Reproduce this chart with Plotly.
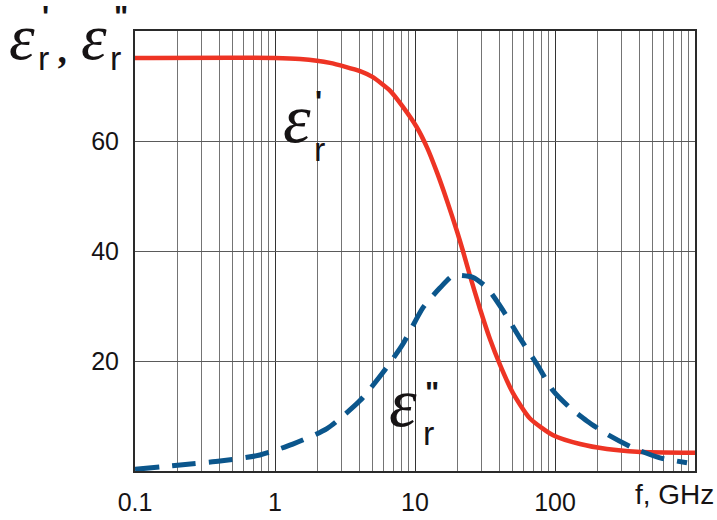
import plotly.graph_objects as go

# ---- data ----
f_real = [0.1, 1, 1.51, 2.47, 4.05, 5.0, 6.6, 8.2, 10.3, 12.2, 14.4, 16.9, 20, 22, 24.7,
          29.1, 34.3, 40.5, 50, 66, 97, 151, 235, 385, 1000]
eps_real = [75.1, 75.1, 74.9, 74.2, 72.7, 71.6, 69.2, 66.2, 62.5, 58.8, 54.2, 49.2, 43.5, 40.0, 35.5,
            29.5, 24.0, 19.3, 14.2, 9.6, 6.5, 4.9, 4.0, 3.5, 3.3]

f_imag = [0.1, 0.21, 0.405, 0.78, 1.34, 2.35, 4.05, 5.9, 8.2, 11.4, 15.1, 18.7, 25.9, 32.7,
          42.5, 56, 74, 97, 128, 169, 235, 361, 562, 877]
eps_imag = [0.3, 1.1, 1.8, 2.9, 4.9, 7.7, 12.8, 17.9, 23.1, 29.7, 33.3, 35.5, 35.2, 33.3,
            29.2, 24.2, 19.5, 14.6, 11.5, 9.1, 6.7, 4.2, 2.4, 1.5]

x_tickvals = [0.1, 1, 10, 100]
x_ticktext = ["0.1", "1", "10", "100"]
x_minor = [m * d for d in [0.1, 1, 10, 100] for m in range(2, 10)]
y_tickvals = [20, 40, 60]

RED = "#ee3424"
BLUE = "#0b568c"
TXT = "#161314"
NARROW = "Liberation Sans Narrow, Arial Narrow, sans-serif"
SERIF = "Liberation Serif, Times New Roman, serif"

W, H = 717, 520
L, R, T, B = 135, 22, 31, 49
PW, PH = W - L - R, H - T - B


def px(x):
    return (x - L) / PW


def py(y):
    return (H - B - y) / PH


fig = go.Figure()
fig.add_trace(go.Scatter(x=f_real, y=eps_real, mode="lines",
                         line=dict(color=RED, width=4.5, shape="spline", smoothing=0.6),
                         hoverinfo="skip", showlegend=False))
fig.add_trace(go.Scatter(x=f_imag, y=eps_imag, mode="lines",
                         line=dict(color=BLUE, width=5, dash="24px,13px", shape="spline", smoothing=0.6),
                         hoverinfo="skip", showlegend=False))

annotations = []


def ann(text, x, y, size, family, color=TXT, italic=False, bold=False, xanchor="center", yanchor="middle"):
    t = text
    if bold:
        t = f"<b>{t}</b>"
    if italic:
        t = f"<i>{t}</i>"
    annotations.append(dict(text=t, x=px(x), y=py(y), xref="paper", yref="paper",
                            showarrow=False, xanchor=xanchor, yanchor=yanchor,
                            font=dict(size=size, family=family, color=color)))


EPS = 70
EPS_TOP = 65
RS = 34
PS = 30
# top-left axis title
ann("ε", 22, 37, EPS_TOP, SERIF, italic=True)
ann("r", 43, 58, RS, NARROW)
ann("'", 45, 16, PS, NARROW, bold=True)
ann(",", 63, 50, 38, SERIF, italic=True, bold=True)
ann("ε", 94, 37, EPS_TOP, SERIF, italic=True)
ann("r", 115, 58, RS, NARROW)
ann('"', 121, 16, PS, NARROW, bold=True)
# curve labels
ann("ε", 297, 118, EPS, SERIF, italic=True)
ann("r", 319, 149, RS, NARROW)
ann("'", 318, 100, PS, NARROW, bold=True)
ann("ε", 403, 402, EPS, SERIF, italic=True)
ann("r", 428, 433, RS, NARROW)
ann('"', 432, 391, PS, NARROW, bold=True)
# x axis unit
ann("f, GHz", 716, 495, 28, NARROW, xanchor="right")

shapes = [
    dict(type="rect", xref="paper", yref="paper", x0=px(277), x1=px(336), y0=py(167), y1=py(82),
         fillcolor="white", line=dict(width=0), layer="between"),
    dict(type="rect", xref="paper", yref="paper", x0=px(388), x1=px(454), y0=py(455), y1=py(366),
         fillcolor="white", line=dict(width=0), layer="between"),
]

fig.update_layout(
    width=W, height=H,
    margin=dict(l=L, r=R, t=T, b=B, pad=0),
    paper_bgcolor="white", plot_bgcolor="white",
    annotations=annotations, shapes=shapes,
    xaxis=dict(type="log", range=[-1, 3], tickvals=x_tickvals, ticktext=x_ticktext,
               automargin=False,
               showgrid=True, gridcolor="#333333", gridwidth=1.2,
               minor=dict(tickvals=x_minor, showgrid=True, gridcolor="#747474", gridwidth=1.4, ticks=""),
               showline=True, mirror=True, linecolor="#2a2a2a", linewidth=2,
               ticks="outside", ticklen=8, tickcolor="rgba(0,0,0,0)",
               tickfont=dict(size=25, family=NARROW, color=TXT), zeroline=False),
    yaxis=dict(range=[0, 80], tickvals=y_tickvals, automargin=False,
               showgrid=True, gridcolor="#5a5a5a", gridwidth=1.3,
               showline=True, mirror=True, linecolor="#2a2a2a", linewidth=2,
               ticks="outside", ticklen=9, tickcolor="rgba(0,0,0,0)",
               tickfont=dict(size=25, family=NARROW, color=TXT), zeroline=False),
)

fig.write_html("out.html")
